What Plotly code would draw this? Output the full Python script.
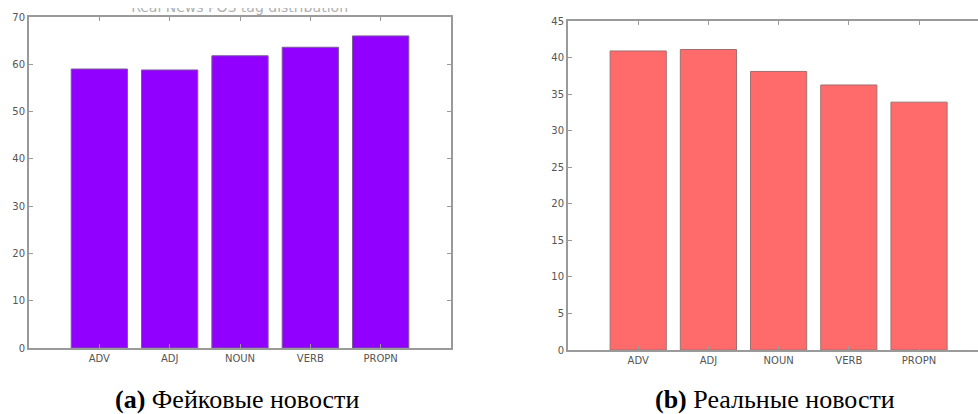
import plotly.graph_objects as go

categories = ["ADV", "ADJ", "NOUN", "VERB", "PROPN"]
fake_values = [59.0, 58.8, 61.8, 63.6, 66.0]
real_values = [40.9, 41.1, 38.1, 36.25, 33.9]
fake_yticks = [0, 10, 20, 30, 40, 50, 60, 70]
real_yticks = [0, 5, 10, 15, 20, 25, 30, 35, 40, 45]
caption_a = "<b>(a)</b> Фейковые новости"
caption_b = "<b>(b)</b> Реальные новости"
title_a = "Real News POS tag distribution"

W, H = 978, 414

fig = go.Figure()
fig.add_trace(go.Bar(x=list(range(len(categories))), y=fake_values, width=0.8,
                     marker=dict(color="#9100ff", line=dict(color="#7a5c99", width=1)),
                     xaxis="x", yaxis="y", showlegend=False, hoverinfo="skip"))
fig.add_trace(go.Bar(x=list(range(len(categories))), y=real_values, width=0.8,
                     marker=dict(color="#ff6b6b", line=dict(color="#a07070", width=1)),
                     xaxis="x2", yaxis="y2", showlegend=False, hoverinfo="skip"))
# partially cropped panel title, clipped by a hidden strip subplot (as in the cropped source)
fig.add_trace(go.Scatter(x=[0.49], y=[0.97], mode="text", text=[title_a],
                         textfont=dict(family="DejaVu Sans", size=14, color="#b0b0b0"),
                         cliponaxis=True, xaxis="x3", yaxis="y3", showlegend=False,
                         hoverinfo="skip"))

axis_common = dict(showline=True, linecolor="#9a9a9a", linewidth=2, ticks="inside",
                   ticklen=4, tickcolor="#9a9a9a", tickwidth=1, showgrid=False,
                   zeroline=False, automargin=False,
                   tickfont=dict(family="DejaVu Sans", size=10, color="#555555"))

fig.update_layout(
    template="none",
    width=W, height=H, margin=dict(l=0, r=0, t=0, b=0, pad=0),
    plot_bgcolor="rgba(0,0,0,0)", paper_bgcolor="white",
    xaxis=dict(domain=[29 / W, 451 / W], range=[-1, 5], tickmode="array",
               tickvals=list(range(len(categories))), ticktext=categories,
               mirror="ticks", anchor="y", **axis_common),
    yaxis=dict(domain=[(H - 348) / H, (H - 17) / H], range=[0, 70], tickmode="array",
               tickvals=fake_yticks, mirror="ticks", anchor="x", **axis_common),
    xaxis2=dict(domain=[568 / W, 1.0], range=[-1, 4.84], tickmode="array",
                tickvals=list(range(len(categories))), ticktext=categories,
                mirror="ticks", anchor="y2", **axis_common),
    yaxis2=dict(domain=[(H - 350) / H, (H - 21) / H], range=[0, 45], tickmode="array",
                tickvals=real_yticks, anchor="x2", **axis_common),
    xaxis3=dict(domain=[0, 0.5], range=[0, 1], visible=False, anchor="y3", fixedrange=True),
    yaxis3=dict(domain=[(H - 40) / H, (H - 8) / H], range=[0, 1], visible=False,
                anchor="x3", fixedrange=True),
    annotations=[
        dict(text=caption_a, x=237 / W, y=1 - 399 / H, xref="paper", yref="paper",
             showarrow=False, xanchor="center", yanchor="middle",
             font=dict(family="Liberation Serif", size=26, color="black")),
        dict(text=caption_b, x=775 / W, y=1 - 399 / H, xref="paper", yref="paper",
             showarrow=False, xanchor="center", yanchor="middle",
             font=dict(family="Liberation Serif", size=26, color="black")),
    ],
)

fig.write_html("out.html", config={"displayModeBar": False},
               post_script="document.body.style.margin='0';")
